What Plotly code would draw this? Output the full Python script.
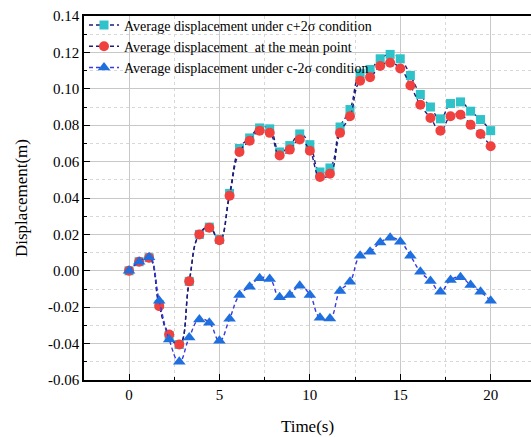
import plotly.graph_objects as go

# Sampling instants (s), step 20/36
time_s = [0.00, 0.56, 1.11, 1.67, 2.22, 2.78, 3.33, 3.89, 4.44, 5.00,
          5.56, 6.11, 6.67, 7.22, 7.78, 8.33, 8.89, 9.44, 10.00, 10.56,
          11.11, 11.67, 12.22, 12.78, 13.33, 13.89, 14.44, 15.00, 15.56, 16.11,
          16.67, 17.22, 17.78, 18.33, 18.89, 19.44, 20.00]

# Average displacement (m) under c+2σ condition
disp_upper = [0.000, 0.005, 0.0072, -0.0185, -0.0355, -0.0405, -0.0058, 0.0200, 0.0240, 0.0172,
              0.0425, 0.0672, 0.0730, 0.0785, 0.0780, 0.0653, 0.0688, 0.0752, 0.0693, 0.0543,
              0.0565, 0.0790, 0.0886, 0.1083, 0.1106, 0.1165, 0.1189, 0.1165, 0.1073, 0.0969,
              0.0900, 0.0835, 0.0919, 0.0928, 0.0877, 0.0831, 0.0770]

# Average displacement (m) at the mean point
disp_mean = [0.000, 0.005, 0.0072, -0.0194, -0.0350, -0.0405, -0.0058, 0.0200, 0.0237, 0.0168,
             0.0412, 0.0653, 0.0715, 0.0770, 0.0758, 0.0634, 0.0666, 0.0722, 0.0660, 0.0515,
             0.0533, 0.0758, 0.0849, 0.1044, 0.1064, 0.1125, 0.1143, 0.1112, 0.1018, 0.0912,
             0.0840, 0.0770, 0.0849, 0.0858, 0.0802, 0.0752, 0.0684]

# Average displacement (m) under c-2σ condition
disp_lower = [0.000, 0.005, 0.0074, -0.0165, -0.0378, -0.0500, -0.0366, -0.0267, -0.0286, -0.0385,
              -0.0264, -0.0133, -0.0087, -0.0041, -0.0045, -0.0146, -0.0133, -0.0082, -0.0133, -0.0258,
              -0.0262, -0.0111, -0.0060, 0.0083, 0.0105, 0.0155, 0.0182, 0.0160, 0.0083, -0.0005,
              -0.0056, -0.0115, -0.0051, -0.0036, -0.0078, -0.0115, -0.0165]

y_ticks = [-0.06, -0.04, -0.02, 0.00, 0.02, 0.04, 0.06, 0.08, 0.10, 0.12, 0.14]
y_tick_text = ["-0.06", "-0.04", "-0.02", "0.00", "0.02", "0.04", "0.06", "0.08", "0.10", "0.12", "0.14"]
x_ticks = [0, 5, 10, 15, 20]

SERIF = "Liberation Serif"
DASH = "4px,3px"

fig = go.Figure()
fig.add_trace(go.Scatter(
    x=time_s, y=disp_upper, mode="lines+markers",
    name="Average displacement under c+2σ condition",
    line=dict(color="#1c1c7a", width=1.4, dash=DASH, shape="spline", smoothing=1.3),
    marker=dict(symbol="square", size=9, color="#2fc3c9"),
))
fig.add_trace(go.Scatter(
    x=time_s, y=disp_mean, mode="lines+markers",
    name="Average displacement  at the mean point",
    line=dict(color="#1c1c7a", width=1.4, dash=DASH, shape="spline", smoothing=1.3),
    marker=dict(symbol="circle", size=10, color="#f0413f"),
))
fig.add_trace(go.Scatter(
    x=time_s, y=disp_lower, mode="lines+markers",
    name="Average displacement under c-2σ condition",
    line=dict(color="#3a3ade", width=1.4, dash=DASH, shape="spline", smoothing=1.3),
    marker=dict(symbol="triangle-up", size=11, color="#1f6fde"),
))

fig.update_layout(
    width=531, height=437,
    margin=dict(l=84, r=0, t=16, b=57),
    plot_bgcolor="white", paper_bgcolor="white",
    font=dict(family=SERIF, size=15, color="black"),
    showlegend=True,
    legend=dict(x=0.0, y=1.018, xanchor="left", yanchor="top",
                bgcolor="rgba(0,0,0,0)", font=dict(family=SERIF, size=14),
                tracegroupgap=0, itemwidth=30),
)
fig.update_xaxes(
    range=[-2.49, 22.23], tickvals=x_ticks,
    showline=True, linecolor="black", linewidth=1.5, mirror=True,
    ticks="inside", ticklen=6, tickwidth=1.2, tickcolor="black",
    showgrid=True, gridcolor="#c8c8c8", gridwidth=1,
    zeroline=False,
    minor=dict(dtick=2.5, ticks="inside", ticklen=3, tickcolor="black",
               showgrid=True, gridcolor="#d8d8d8", griddash="dot"),
    title=dict(text="Time(s)", font=dict(family=SERIF, size=17), standoff=18),
    tickfont=dict(family=SERIF, size=15),
)
fig.update_yaxes(
    range=[-0.06, 0.14], tickvals=y_ticks, ticktext=y_tick_text,
    showline=True, linecolor="black", linewidth=1.5,
    ticks="inside", ticklen=6, tickwidth=1.2, tickcolor="black",
    showgrid=True, gridcolor="#c8c8c8", gridwidth=1,
    zeroline=False,
    minor=dict(dtick=0.01, ticks="inside", ticklen=3, tickcolor="black",
               showgrid=True, gridcolor="#d8d8d8", griddash="dot"),
    title=dict(text="Displacement(m)", font=dict(family=SERIF, size=17), standoff=16),
    tickfont=dict(family=SERIF, size=15),
)

fig.write_html("out.html")
